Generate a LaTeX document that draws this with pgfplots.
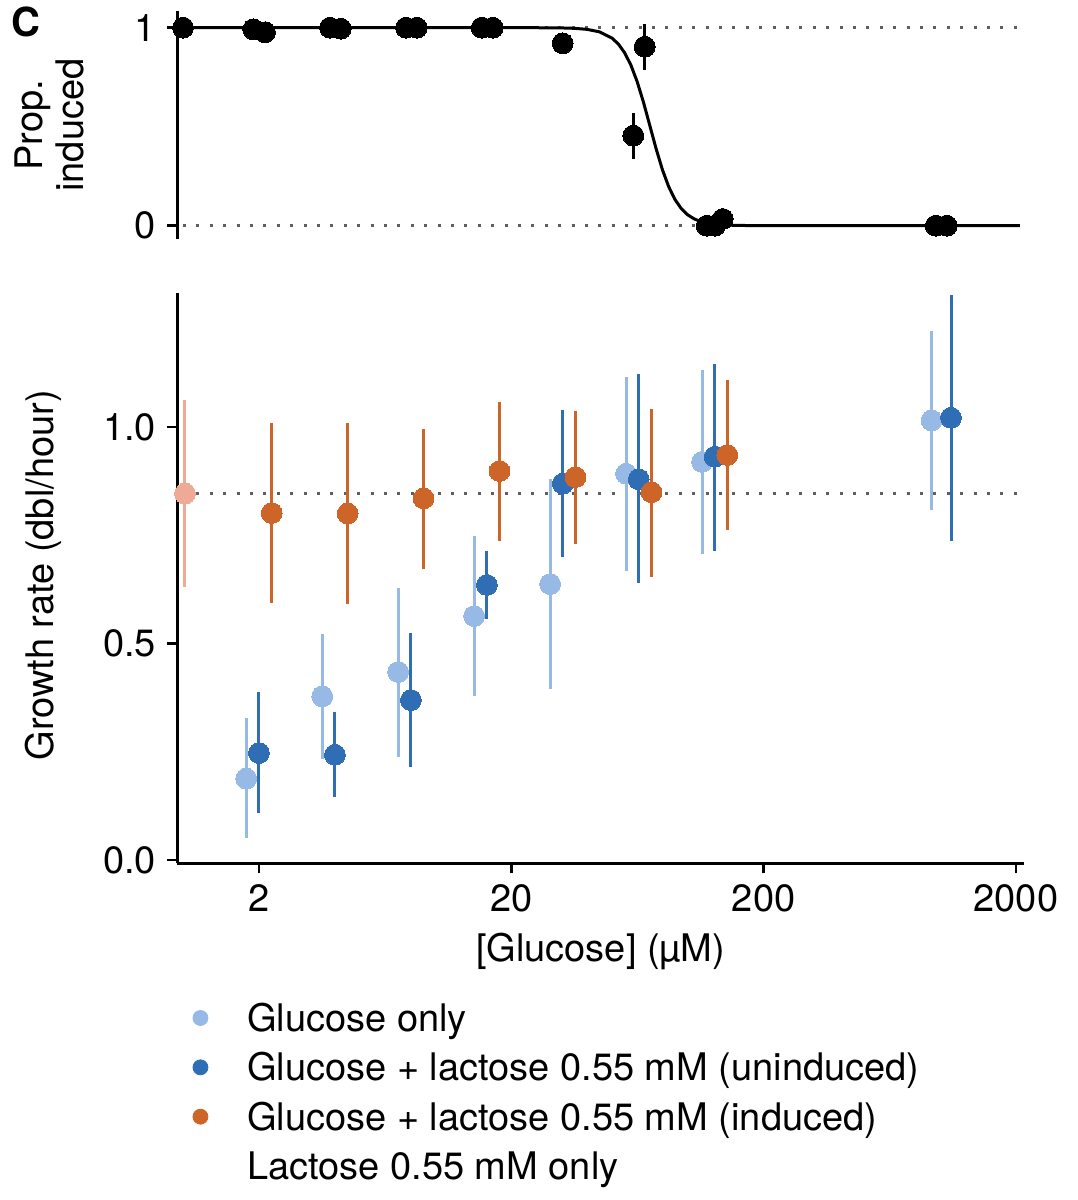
\documentclass[border=0pt]{standalone}
\usepackage{fontspec}
\setmainfont{TeX Gyre Heros}
\usepackage{pgfplots}
\usepackage{pgfplotstable}
\pgfplotsset{compat=1.18}
\definecolor{lb}{RGB}{150,185,230}
\definecolor{db}{RGB}{47,110,181}
\definecolor{og}{RGB}{204,101,39}
\definecolor{pk}{RGB}{239,170,149}
\definecolor{dotg}{RGB}{95,95,95}
\newcommand\F{\fontsize{19}{20.25}\selectfont}

% Glucose only
\pgfplotstableread{
x y hi lo
1.781 0.188 0.327 0.050
3.562 0.378 0.521 0.233
7.124 0.434 0.629 0.238
14.25 0.563 0.748 0.379
28.50 0.637 0.879 0.395
57.0 0.892 1.115 0.668
114.0 0.919 1.132 0.706
927 1.015 1.221 0.808
}\gluonly
% Glucose + lactose (uninduced)
\pgfplotstableread{
x y hi lo
2.0 0.247 0.388 0.108
4.0 0.243 0.342 0.145
8.0 0.369 0.523 0.215
16.0 0.635 0.714 0.557
32.0 0.869 1.040 0.700
64.0 0.879 1.122 0.639
128 0.931 1.146 0.714
1106 1.021 1.304 0.737
}\unind
% Glucose + lactose (induced)
\pgfplotstableread{
x y hi lo
2.246 0.801 1.009 0.593
4.492 0.800 1.008 0.591
8.984 0.835 0.996 0.672
17.97 0.898 1.058 0.736
35.94 0.884 1.037 0.730
71.9 0.849 1.042 0.654
143.7 0.935 1.108 0.762
}\ind
% Lactose only
\pgfplotstableread{
x y hi lo
1.018 0.846 1.062 0.631
}\lac
% Proportion induced
\pgfplotstableread{
x y
1.0 1.0
1.898 0.992
2.113 0.977
3.823 1.0
4.215 0.995
7.650 1.0
8.437 1.0
15.27 1.0
16.88 1.0
31.97 0.921
119.0 0
128.3 0
137.7 0.034
961.9 0
1063 0
}\prop
\pgfplotstableread{
x y hi lo
60.90 0.455 0.568 0.337
67.56 0.904 1.020 0.786
}\properr
% fitted curve
\pgfplotstableread{
x y
1 1
10 1
25 0.9998
31.62 0.9988
35.48 0.9968
39.81 0.9918
44.67 0.9791
50.12 0.9474
53.09 0.9179
56.23 0.8739
59.57 0.8112
63.10 0.7271
66.83 0.6231
70.79 0.5062
74.99 0.3887
79.43 0.2828
84.14 0.1965
89.13 0.1317
94.41 0.0860
100 0.0551
105.9 0.0349
112.2 0.0219
118.9 0.0137
125.9 0.0086
141.3 0.0033
158.5 0.0013
199.5 0.0001
2075 0
}\curve

\tikzset{
  mydotl/.style={dotg, line width=1.5pt, dash pattern=on 1.5pt off 5.2pt},
}

\begin{document}
\begin{tikzpicture}
\useasboundingbox (-88.65pt,-168.35pt) rectangle (449.85pt,431.65pt);
\node[font=\bfseries\fontsize{20}{20}\selectfont, anchor=center, inner sep=0pt] at (-75.65pt,420.65pt) {C};

% ---------- bottom panel ----------
\begin{axis}[at={(0pt,0pt)}, anchor=south west,
  scale only axis, width=423.35pt, height=285.15pt,
  xmode=log, xmin=0.949, xmax=2153,
  ymin=-0.0076, ymax=1.309,
  axis lines*=left,
  axis line style={line width=1.25pt, black},
  tick style={line width=1.25pt, black},
  major tick length=5pt, tick align=outside,
  xminorticks=false, yminorticks=false,
  tick label style={font=\F, inner sep=5.5pt},
  label style={font=\F},
  xtick={2,20,200,2000}, xticklabels={2,20,200,2000},
  ytick={0,0.5,1}, yticklabels={0.0,0.5,1.0},
  xlabel={[Glucose] (µM)},
  xlabel style={at={(axis description cs:0.5,-0.1725)}, anchor=base, inner sep=0pt},
  ylabel={Growth rate (dbl/hour)},
  ylabel style={at={(axis description cs:-0.1465,0.505)}, anchor=base, inner sep=0pt},
  legend cell align=left,
  legend style={draw=none, fill=none, at={(axis description cs:0.018,-0.246)},
    anchor=north west, inner sep=0pt, outer sep=0pt, row sep=5.67pt,
    font=\F, nodes={inner sep=0pt, text height=14pt, text depth=5pt},
    /tikz/every odd column/.style={column sep=19.4pt}},
]
\addlegendimage{legend image code/.code={\fill[lb] (0pt,2.3pt) circle (3.75pt);}}
\addlegendentry{Glucose only}
\addlegendimage{legend image code/.code={\fill[db] (0pt,2.3pt) circle (3.75pt);}}
\addlegendentry{Glucose + lactose 0.55 mM (uninduced)}
\addlegendimage{legend image code/.code={\fill[og] (0pt,2.3pt) circle (3.75pt);}}
\addlegendentry{Glucose + lactose 0.55 mM (induced)}
\addlegendimage{legend image code/.code={}}
\addlegendentry{Lactose 0.55 mM only}

\addplot[mydotl, forget plot] coordinates {(1,0.846) (2075,0.846)};

\addplot[draw=none, mark=none, forget plot, error bars/.cd, y dir=both, y explicit, error mark=none, error bar style={line width=1.5pt, pk}]
  table[x=x, y=y, y error plus expr=\thisrow{hi}-\thisrow{y}, y error minus expr=\thisrow{y}-\thisrow{lo}] {\lac};
\addplot[draw=none, mark=none, forget plot, error bars/.cd, y dir=both, y explicit, error mark=none, error bar style={line width=1.5pt, lb}]
  table[x=x, y=y, y error plus expr=\thisrow{hi}-\thisrow{y}, y error minus expr=\thisrow{y}-\thisrow{lo}] {\gluonly};
\addplot[draw=none, mark=none, forget plot, error bars/.cd, y dir=both, y explicit, error mark=none, error bar style={line width=1.5pt, db}]
  table[x=x, y=y, y error plus expr=\thisrow{hi}-\thisrow{y}, y error minus expr=\thisrow{y}-\thisrow{lo}] {\unind};
\addplot[draw=none, mark=none, forget plot, error bars/.cd, y dir=both, y explicit, error mark=none, error bar style={line width=1.5pt, og}]
  table[x=x, y=y, y error plus expr=\thisrow{hi}-\thisrow{y}, y error minus expr=\thisrow{y}-\thisrow{lo}] {\ind};

\addplot[only marks, mark=*, mark size=5.2pt, forget plot, mark options={draw=pk, fill=pk, line width=0pt}] table[x=x, y=y] {\lac};
\addplot[only marks, mark=*, mark size=5.2pt, forget plot, mark options={draw=lb, fill=lb, line width=0pt}] table[x=x, y=y] {\gluonly};
\addplot[only marks, mark=*, mark size=5.2pt, forget plot, mark options={draw=db, fill=db, line width=0pt}] table[x=x, y=y] {\unind};
\addplot[only marks, mark=*, mark size=5.2pt, forget plot, mark options={draw=og, fill=og, line width=0pt}] table[x=x, y=y] {\ind};
\end{axis}

% ---------- top panel ----------
\begin{axis}[at={(0pt,312pt)}, anchor=south west,
  scale only axis, width=423.35pt, height=114.15pt,
  xmode=log, xmin=0.949, xmax=2153,
  ymin=-0.0687, ymax=1.0843,
  axis x line=none, axis y line*=left, clip=false,
  axis line style={line width=1.25pt, black},
  tick style={line width=1.25pt, black},
  major tick length=5pt, tick align=outside,
  xminorticks=false, yminorticks=false,
  tick label style={font=\F, inner sep=5.5pt},
  ytick={0,1}, yticklabels={0,1},
  ylabel={Prop.\\induced},
  ylabel style={align=center, font=\F, at={(axis description cs:-0.1512,0.5)}, anchor=center, inner sep=0pt},
]
\addplot[mydotl, forget plot] coordinates {(1,1) (2075,1)};
\addplot[mydotl, forget plot] coordinates {(1,0) (2075,0)};
\addplot[black, line width=1.5pt, mark=none, forget plot] table[x=x, y=y] {\curve};
\addplot[draw=none, mark=none, forget plot, error bars/.cd, y dir=both, y explicit, error mark=none, error bar style={line width=1.5pt, black}]
  table[x=x, y=y, y error plus expr=\thisrow{hi}-\thisrow{y}, y error minus expr=\thisrow{y}-\thisrow{lo}] {\properr};
\addplot[only marks, mark=*, mark size=5.2pt, forget plot, mark options={draw=black, fill=black, line width=0pt}] table[x=x, y=y] {\prop};
\addplot[only marks, mark=*, mark size=5.2pt, forget plot, mark options={draw=black, fill=black, line width=0pt}] table[x=x, y=y] {\properr};
\end{axis}
\end{tikzpicture}
\end{document}
